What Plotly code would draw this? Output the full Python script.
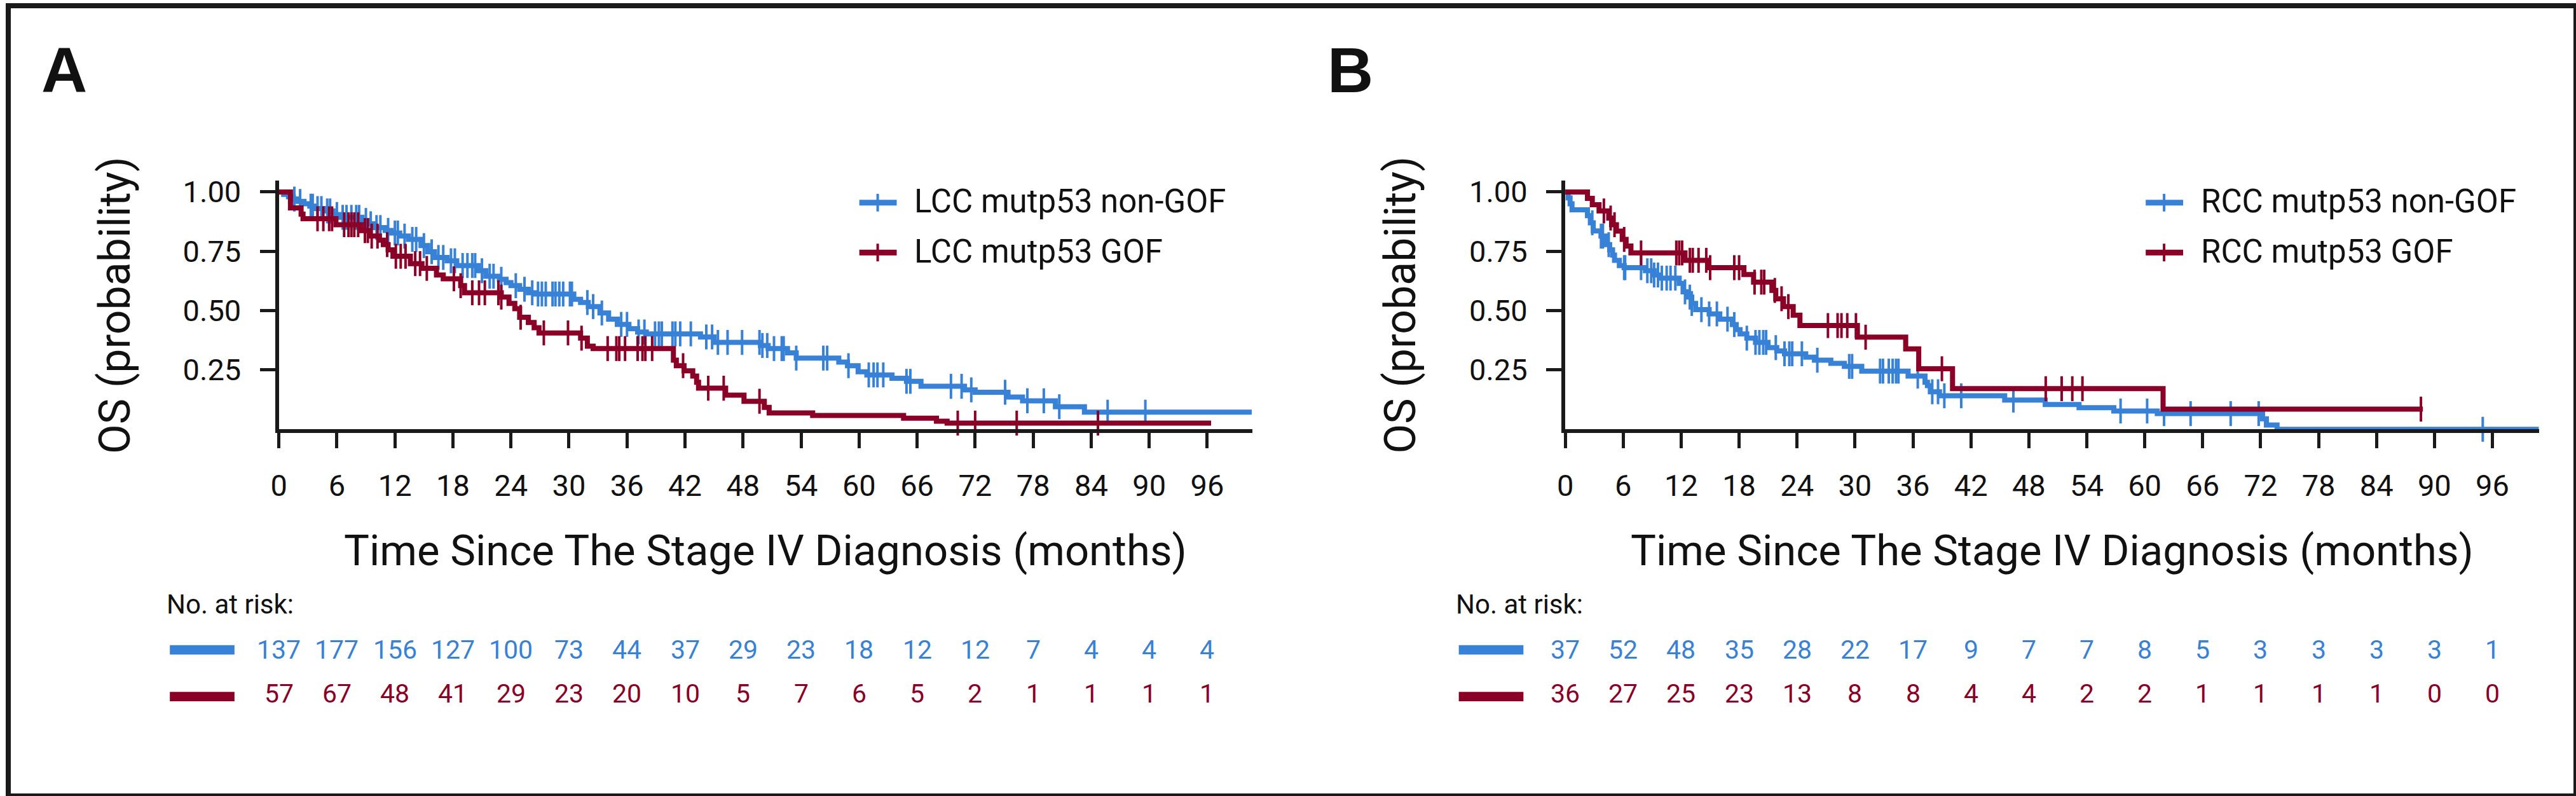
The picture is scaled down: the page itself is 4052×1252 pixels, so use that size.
import numpy as np
import plotly.graph_objects as go

W, H = 4052, 1252
BLUE = "#3781d6"
RED = "#8a0027"
INK = "#1a1a1a"
FONT = "Roboto, Liberation Sans, Arial, sans-serif"

months = list(range(0, 97, 6))
y_ticks = [0.25, 0.50, 0.75, 1.00]
y_ticktext = ["0.25", "0.50", "0.75", "1.00"]

# panel A - left colon cancer
lcc_ngof_t = [0, 0.5, 1.0, 1.5, 2.0, 2.6, 3.2, 3.8, 4.8, 5.6, 6.3, 8.6, 9.2, 9.8, 11.0, 11.6, 12.5, 13.4,
              14.7, 15.4, 16.1, 17.4, 18.4, 20.6, 21.4, 22.8, 23.5, 24.0, 24.9, 25.8, 26.5, 30.5, 31.2,
              32.0, 33.2, 34.1, 35.0, 36.2, 37.1, 38.0, 43.6, 45.0, 49.8, 50.6, 52.6, 53.5, 57.9, 58.8,
              59.9, 60.8, 63.4, 64.9, 66.4, 70.9, 72.0, 75.4, 76.9, 80.3, 83.3, 100.6]
lcc_ngof_s = [1.0, 0.99, 0.98, 0.97, 0.96, 0.95, 0.94, 0.93, 0.92, 0.905, 0.893, 0.88, 0.866, 0.85, 0.838,
              0.827, 0.814, 0.80, 0.774, 0.748, 0.724, 0.71, 0.69, 0.668, 0.645, 0.632, 0.618, 0.605,
              0.59, 0.575, 0.57, 0.548, 0.534, 0.517, 0.49, 0.464, 0.442, 0.424, 0.41, 0.402, 0.389,
              0.366, 0.353, 0.34, 0.322, 0.30, 0.283, 0.268, 0.242, 0.229, 0.215, 0.202, 0.181, 0.166,
              0.156, 0.136, 0.12, 0.095, 0.072, 0.072]
lcc_ngof_cens = [1.6, 2.2, 3.3, 3.5, 4.0, 4.4, 5.0, 5.3, 6.0, 6.6, 7.0, 7.5, 8.0, 8.3, 9.0, 9.5, 10.1, 10.5,
                 11.3, 12.0, 12.3, 13.0, 13.8, 14.2, 15.0, 15.8, 16.5, 17.0, 17.8, 18.2, 19.0, 19.5, 20.0,
                 20.3, 21.0, 21.8, 22.2, 23.0, 24.5, 25.4, 26.2, 26.8, 27.2, 27.6, 28.3, 28.6, 29.0, 29.4,
                 30.1, 30.3, 31.9, 32.5, 33.4, 35.4, 36.0, 37.2, 37.8, 38.9, 39.3, 39.6, 40.7, 41.0, 41.5,
                 42.6, 44.2, 44.8, 45.4, 46.4, 47.9, 49.7, 50.0, 50.5, 51.2, 52.0, 52.2, 53.5, 56.3, 56.7,
                 58.9, 61.0, 61.5, 61.9, 62.5, 64.9, 65.3, 69.5, 70.6, 71.6, 75.1, 77.4, 79.1, 80.7, 85.7,
                 89.6]

lcc_gof_t = [0, 1.2, 2.3, 2.5, 5.9, 8.5, 9.4, 10.4, 10.8, 11.3, 11.8, 13.6, 14.8, 16.3, 17.0, 18.8, 19.2,
             23.0, 23.8, 24.4, 24.9, 25.8, 26.4, 26.9, 31.2, 31.9, 32.5, 40.8, 41.1, 41.9, 42.8, 43.2,
             43.4, 46.2, 48.1, 50.2, 50.7, 55.2, 64.6, 68.0, 69.1, 96.4]
lcc_gof_s = [1.0, 0.933, 0.907, 0.887, 0.862, 0.837, 0.814, 0.797, 0.778, 0.756, 0.729, 0.698, 0.678, 0.65,
             0.634, 0.605, 0.575, 0.557, 0.53, 0.508, 0.472, 0.45, 0.428, 0.406, 0.384, 0.35, 0.34, 0.291,
             0.268, 0.246, 0.224, 0.198, 0.173, 0.144, 0.118, 0.092, 0.069, 0.058, 0.047, 0.034, 0.026,
             0.026]
lcc_gof_cens = [4.0, 4.6, 5.2, 5.5, 6.75, 7.2, 7.5, 7.8, 8.2, 8.9, 9.2, 9.6, 10.2, 11.2, 12.1, 12.6, 13.1,
                14.1, 14.6, 15.3, 18.1, 18.8, 20.0, 20.7, 21.3, 22.7, 23.0, 25.0, 27.4, 29.9, 31.3, 34.0,
                34.9, 35.2, 35.8, 37.1, 37.6, 37.9, 38.6, 41.8, 44.4, 46.0, 49.7, 70.2, 72.0, 76.3, 84.7]

lcc_ngof_risk = [137, 177, 156, 127, 100, 73, 44, 37, 29, 23, 18, 12, 12, 7, 4, 4, 4]
lcc_gof_risk = [57, 67, 48, 41, 29, 23, 20, 10, 5, 7, 6, 5, 2, 1, 1, 1, 1]

# panel B - right colon cancer
rcc_ngof_t = [0, 0.3, 0.5, 0.7, 2.3, 2.6, 2.9, 3.7, 4.2, 4.6, 4.9, 5.1, 5.6, 6.1, 8.3, 9.2, 9.8, 11.8, 12.2,
              12.7, 13.1, 13.5, 14.9, 16.0, 17.3, 17.7, 18.1, 18.8, 19.7, 21.0, 21.9, 22.7, 24.9, 25.8,
              27.5, 28.9, 30.7, 35.5, 37.25, 37.5, 37.8, 38.75, 45.5, 49.7, 53.2, 56.8, 61.3, 72.2, 72.6,
              73.7, 100.8]
rcc_ngof_s = [1.0, 0.975, 0.95, 0.925, 0.90, 0.87, 0.836, 0.814, 0.778, 0.756, 0.734, 0.712, 0.69, 0.681,
              0.668, 0.65, 0.637, 0.615, 0.579, 0.557, 0.53, 0.504, 0.486, 0.464, 0.441, 0.42, 0.402,
              0.384, 0.366, 0.344, 0.33, 0.318, 0.304, 0.291, 0.278, 0.265, 0.245, 0.224, 0.198, 0.184,
              0.158, 0.141, 0.123, 0.104, 0.091, 0.077, 0.066, 0.044, 0.018, 0.0, 0.0]
rcc_ngof_cens = [2.8, 3.7, 3.9, 4.5, 6.1, 6.2, 7.85, 8.5, 8.9, 9.2, 9.6, 10.0, 10.5, 10.9, 11.4, 12.4, 12.9,
                 13.1, 14.1, 14.9, 15.7, 16.8, 17.5, 18.8, 19.7, 20.1, 20.5, 20.8, 21.8, 22.7, 23.2, 23.5,
                 24.5, 26.1, 29.4, 29.7, 32.6, 32.9, 33.5, 33.9, 34.25, 34.5, 36.5, 38.0, 38.6, 39.25,
                 41.0, 46.4, 57.5, 60.25, 62.0, 64.75, 68.9, 71.8, 95.0]

rcc_gof_t = [0, 2.3, 2.8, 3.5, 4.5, 4.8, 5.3, 5.9, 6.3, 6.8, 12.4, 14.8, 18.5, 19.5, 21.4, 21.8, 22.6, 23.6,
             24.3, 30.25, 35.25, 36.6, 40.1, 61.9, 88.8]
rcc_gof_s = [1.0, 0.973, 0.946, 0.92, 0.89, 0.862, 0.835, 0.80, 0.772, 0.743, 0.712, 0.681, 0.652, 0.62,
             0.585, 0.55, 0.517, 0.481, 0.437, 0.388, 0.339, 0.255, 0.171, 0.085, 0.085]
rcc_gof_cens = [4.0, 4.7, 5.1, 6.1, 7.85, 11.5, 11.8, 12.1, 12.9, 13.2, 13.8, 14.6, 15.0, 17.5, 18.0, 19.6,
                20.3, 20.6, 21.7, 22.4, 23.1, 27.2, 28.2, 28.6, 29.2, 30.1, 31.1, 39.0, 49.75, 51.4, 52.5,
                53.55, 88.6]

rcc_ngof_risk = [37, 52, 48, 35, 28, 22, 17, 9, 7, 7, 8, 5, 3, 3, 3, 3, 1]
rcc_gof_risk = [36, 27, 25, 23, 13, 8, 8, 4, 4, 2, 2, 1, 1, 1, 1, 0, 0]


def px(x):
    return x / W


def py(y):
    return 1 - y / H


def surv_at(times, surv, t):
    idx = np.searchsorted(np.array(times), np.array(t), side="right") - 1
    return np.array(surv)[idx]


panels = [
    dict(letter="A", xa="x", ya="y", left=427, right=1963, xmax=100.65, ylab_x=168,
         label_x=88, legend_x=1343, risk_x=248,
         curves=[("LCC mutp53 non-GOF", lcc_ngof_t, lcc_ngof_s, lcc_ngof_cens, lcc_ngof_risk, BLUE),
                 ("LCC mutp53 GOF", lcc_gof_t, lcc_gof_s, lcc_gof_cens, lcc_gof_risk, RED)]),
    dict(letter="B", xa="x2", ya="y2", left=2457, right=3994, xmax=100.85, ylab_x=2197,
         label_x=2118, legend_x=3373, risk_x=2282,
         curves=[("RCC mutp53 non-GOF", rcc_ngof_t, rcc_ngof_s, rcc_ngof_cens, rcc_ngof_risk, BLUE),
                 ("RCC mutp53 GOF", rcc_gof_t, rcc_gof_s, rcc_gof_cens, rcc_gof_risk, RED)]),
]

fig = go.Figure()
annotations = []
shapes = []

legend_rows = [310, 389]
risk_rows = [1020, 1090]

for p in panels:
    for i, (name, t, s, cens, risk, color) in enumerate(p["curves"]):
        fig.add_trace(go.Scatter(x=t, y=s, mode="lines", name=name, xaxis=p["xa"], yaxis=p["ya"],
                                 line=dict(shape="hv", width=8, color=color), cliponaxis=False,
                                 hoverinfo="skip"))
        fig.add_trace(go.Scatter(x=cens, y=surv_at(t, s, cens), mode="markers", xaxis=p["xa"],
                                 yaxis=p["ya"], showlegend=False, cliponaxis=False,
                                 marker=dict(symbol="line-ns", size=28, color=color,
                                             line=dict(width=4, color=color))))

        # legend entry
        ly = legend_rows[i]
        lx = p["legend_x"]
        shapes.append(dict(type="line", xref="paper", yref="paper", x0=px(lx), x1=px(lx + 59),
                           y0=py(ly + 2), y1=py(ly + 2), line=dict(color=color, width=9)))
        shapes.append(dict(type="line", xref="paper", yref="paper", x0=px(lx + 29), x1=px(lx + 29),
                           y0=py(ly - 12), y1=py(ly + 16), line=dict(color=color, width=4)))
        annotations.append(dict(text=name, xref="paper", yref="paper", x=px(lx + 85), y=py(ly),
                                xanchor="left", yanchor="middle", showarrow=False,
                                font=dict(family=FONT, size=51, color="#111111")))

        # number at risk row
        ry = risk_rows[i]
        shapes.append(dict(type="rect", xref="paper", yref="paper", x0=px(p["risk_x"] + 7),
                           x1=px(p["risk_x"] + 109), y0=py(ry + 8 + 4 * i), y1=py(ry - 7 + 4 * i),
                           fillcolor=color, line=dict(width=0)))
        for m, n in zip(months, risk):
            annotations.append(dict(text=str(n), xref=p["xa"], yref="paper", x=m, y=py(ry),
                                    xanchor="center", yanchor="middle", showarrow=False,
                                    font=dict(family=FONT, size=41, color=color)))

    annotations.append(dict(text="No. at risk:", xref="paper", yref="paper", x=px(p["risk_x"]),
                            y=py(948), xanchor="left", yanchor="middle", showarrow=False,
                            font=dict(family=FONT, size=42, color="#111111")))
    annotations.append(dict(text="Time Since The Stage IV Diagnosis (months)", xref="paper",
                            yref="paper", x=px((p["left"] + p["right"]) / 2), y=py(863),
                            xanchor="center", yanchor="middle", showarrow=False,
                            font=dict(family=FONT, size=67, color="#111111")))
    annotations.append(dict(text="OS (probability)", xref="paper", yref="paper", x=px(p["ylab_x"]),
                            y=py(474), xanchor="center", yanchor="middle", textangle=-90,
                            showarrow=False, font=dict(family=FONT, size=68, color="#111111")))
    annotations.append(dict(text="<b>%s</b>" % p["letter"], xref="paper", yref="paper",
                            x=px(p["label_x"]), y=py(102), xanchor="center", yanchor="middle",
                            showarrow=False,
                            font=dict(family="Liberation Sans, Arial, sans-serif", size=100,
                                      color="#111111")))

shapes.append(dict(type="rect", xref="paper", yref="paper", x0=0, x1=1, y0=0, y1=1,
                   line=dict(color=INK, width=8)))

axis_style = dict(showline=True, linewidth=6, linecolor=INK, ticks="outside", ticklen=24, tickwidth=5,
                  tickcolor=INK, showgrid=False, zeroline=False,
                  tickfont=dict(family=FONT, size=47, color="#111111"))

ydom = [py(671), py(277)]
fig.update_layout(
    width=W, height=H,
    margin=dict(l=0, r=0, t=0, b=0),
    paper_bgcolor="white", plot_bgcolor="white",
    showlegend=False,
    xaxis=dict(domain=[px(427), px(1963)], range=[0, 100.65], tickvals=months, anchor="y",
               ticklabelstandoff=18, **axis_style),
    yaxis=dict(domain=ydom, range=[0, 1.048], tickvals=y_ticks, ticktext=y_ticktext, anchor="x",
               ticklabelstandoff=20, **axis_style),
    xaxis2=dict(domain=[px(2457), px(3994)], range=[0, 100.85], tickvals=months, anchor="y2",
                ticklabelstandoff=18, **axis_style),
    yaxis2=dict(domain=ydom, range=[0, 1.048], tickvals=y_ticks, ticktext=y_ticktext, anchor="x2",
                ticklabelstandoff=20, **axis_style),
    annotations=annotations,
    shapes=shapes,
)

fig.write_html("out.html", config={"displayModeBar": False},
               post_script="document.body.style.margin='0';")
